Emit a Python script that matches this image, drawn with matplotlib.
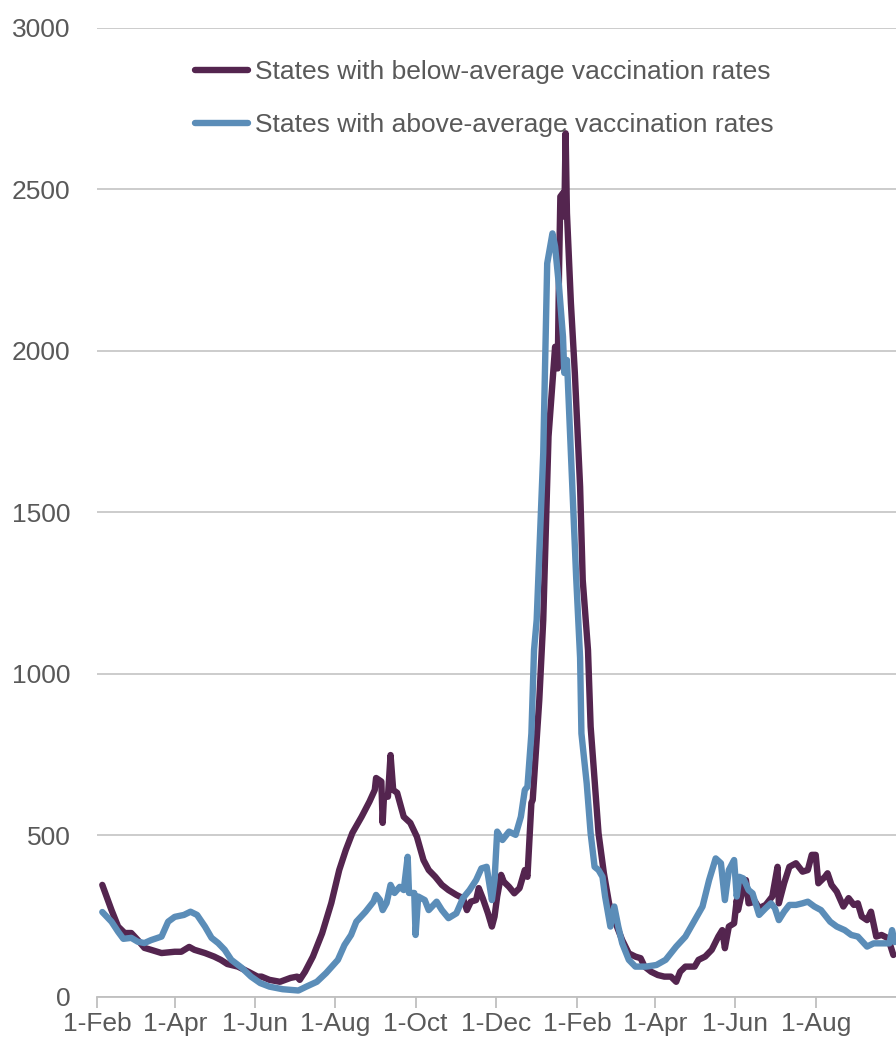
import pandas as pd
import matplotlib
matplotlib.use('Agg')
import matplotlib.pyplot as plt
import matplotlib.dates as mdates

plt.rcParams['font.family'] = ['Liberation Sans', 'DejaVu Sans']

# states with below-average vaccination rates
below_dates = [
    '2021-02-05', '2021-02-12', '2021-02-17', '2021-02-22', '2021-02-27', '2021-03-04',
    '2021-03-09', '2021-03-14', '2021-03-22', '2021-04-01', '2021-04-06', '2021-04-12',
    '2021-04-16', '2021-04-24', '2021-05-01', '2021-05-06', '2021-05-11', '2021-05-19',
    '2021-05-27', '2021-06-03', '2021-06-06', '2021-06-12', '2021-06-20', '2021-06-28',
    '2021-07-03', '2021-07-05', '2021-07-09', '2021-07-15', '2021-07-22', '2021-07-29',
    '2021-08-04', '2021-08-09', '2021-08-14', '2021-08-21', '2021-08-27', '2021-08-31',
    '2021-09-01', '2021-09-05', '2021-09-06', '2021-09-07', '2021-09-10', '2021-09-12',
    '2021-09-14', '2021-09-17', '2021-09-22', '2021-09-27', '2021-10-02', '2021-10-07',
    '2021-10-11', '2021-10-16', '2021-10-21', '2021-10-26', '2021-11-01', '2021-11-06',
    '2021-11-09', '2021-11-12', '2021-11-16', '2021-11-18', '2021-11-21', '2021-11-25',
    '2021-11-28', '2021-11-30', '2021-12-02', '2021-12-05', '2021-12-07', '2021-12-11',
    '2021-12-15', '2021-12-19', '2021-12-23', '2021-12-25', '2021-12-28', '2021-12-29',
    '2022-01-01', '2022-01-03', '2022-01-06', '2022-01-10', '2022-01-12', '2022-01-15',
    '2022-01-17', '2022-01-18', '2022-01-19', '2022-01-21', '2022-01-22', '2022-01-23',
    '2022-01-24', '2022-01-27', '2022-01-30', '2022-02-03', '2022-02-05', '2022-02-09',
    '2022-02-11', '2022-02-14', '2022-02-17', '2022-02-21', '2022-02-25', '2022-03-02',
    '2022-03-07', '2022-03-12', '2022-03-17', '2022-03-21', '2022-03-24', '2022-03-29',
    '2022-04-03', '2022-04-08', '2022-04-13', '2022-04-17', '2022-04-20', '2022-04-24',
    '2022-05-01', '2022-05-04', '2022-05-09', '2022-05-14', '2022-05-19', '2022-05-22',
    '2022-05-24', '2022-05-27', '2022-05-31', '2022-06-02', '2022-06-03', '2022-06-07',
    '2022-06-09', '2022-06-11', '2022-06-16', '2022-06-19', '2022-06-24', '2022-06-29',
    '2022-07-03', '2022-07-04', '2022-07-08', '2022-07-12', '2022-07-17', '2022-07-22',
    '2022-07-26', '2022-07-29', '2022-08-01', '2022-08-03', '2022-08-08', '2022-08-10',
    '2022-08-13', '2022-08-17', '2022-08-22', '2022-08-26', '2022-08-30', '2022-09-02',
    '2022-09-05', '2022-09-09', '2022-09-12', '2022-09-16', '2022-09-20', '2022-09-25',
    '2022-09-29',
]
below_vals = [
    347, 269, 218, 198, 198, 176,
    152, 146, 136, 140, 140, 155,
    146, 136, 125, 115, 102, 94,
    78, 63, 63, 53, 47, 59,
    63, 53, 78, 125, 197, 291,
    393, 455, 508, 558, 605, 641,
    678, 667, 539, 620, 620, 749,
    641, 632, 558, 539, 496, 424,
    393, 372, 347, 331, 316, 306,
    269, 295, 300, 337, 306, 259,
    218, 249, 311, 378, 357, 341,
    321, 337, 393, 372, 601, 610,
    796, 920, 1167, 1735, 1848, 2013,
    1946, 2250, 2478, 2489, 2416, 2674,
    2427, 2149, 1932, 1580, 1291, 1074,
    837, 672, 507, 385, 290, 228,
    176, 135, 125, 120, 94, 78,
    68, 63, 63, 47, 78, 94,
    94, 115, 125, 146, 187, 207,
    151, 218, 228, 300, 269, 341,
    362, 290, 295, 275, 285, 311,
    403, 290, 352, 403, 414, 388,
    393, 440, 440, 352, 372, 383,
    347, 326, 280, 306, 285, 290,
    249, 238, 264, 187, 192, 182,
    130,
]

# states with above-average vaccination rates
above_dates = [
    '2021-02-05', '2021-02-12', '2021-02-17', '2021-02-21', '2021-02-27', '2021-03-04',
    '2021-03-09', '2021-03-14', '2021-03-22', '2021-03-27', '2021-04-01', '2021-04-08',
    '2021-04-13', '2021-04-18', '2021-04-24', '2021-04-29', '2021-05-04', '2021-05-09',
    '2021-05-14', '2021-05-22', '2021-05-29', '2021-06-05', '2021-06-12', '2021-06-22',
    '2021-07-04', '2021-07-10', '2021-07-18', '2021-07-25', '2021-08-03', '2021-08-08',
    '2021-08-13', '2021-08-17', '2021-08-24', '2021-08-30', '2021-09-01', '2021-09-04',
    '2021-09-06', '2021-09-09', '2021-09-12', '2021-09-15', '2021-09-19', '2021-09-22',
    '2021-09-25', '2021-09-26', '2021-09-30', '2021-10-01', '2021-10-03', '2021-10-08',
    '2021-10-11', '2021-10-17', '2021-10-21', '2021-10-26', '2021-11-01', '2021-11-06',
    '2021-11-11', '2021-11-16', '2021-11-20', '2021-11-24', '2021-11-28', '2021-11-30',
    '2021-12-02', '2021-12-06', '2021-12-11', '2021-12-16', '2021-12-20', '2021-12-23',
    '2021-12-25', '2021-12-28', '2021-12-30', '2022-01-01', '2022-01-06', '2022-01-08',
    '2022-01-09', '2022-01-13', '2022-01-15', '2022-01-18', '2022-01-21', '2022-01-22',
    '2022-01-24', '2022-01-27', '2022-01-31', '2022-02-03', '2022-02-04', '2022-02-08',
    '2022-02-11', '2022-02-14', '2022-02-17', '2022-02-20', '2022-02-22', '2022-02-26',
    '2022-03-01', '2022-03-04', '2022-03-07', '2022-03-12', '2022-03-17', '2022-03-25',
    '2022-04-02', '2022-04-09', '2022-04-17', '2022-04-24', '2022-05-02', '2022-05-07',
    '2022-05-12', '2022-05-17', '2022-05-21', '2022-05-24', '2022-05-27', '2022-05-31',
    '2022-06-02', '2022-06-04', '2022-06-07', '2022-06-11', '2022-06-14', '2022-06-19',
    '2022-06-24', '2022-06-28', '2022-07-01', '2022-07-04', '2022-07-08', '2022-07-12',
    '2022-07-17', '2022-07-22', '2022-07-26', '2022-07-31', '2022-08-05', '2022-08-12',
    '2022-08-17', '2022-08-23', '2022-08-28', '2022-09-02', '2022-09-09', '2022-09-14',
    '2022-09-21', '2022-09-26', '2022-09-28', '2022-09-30',
]
above_vals = [
    263, 233, 202, 180, 183, 171,
    167, 176, 187, 233, 248, 254,
    264, 254, 218, 183, 167, 146,
    115, 90, 63, 43, 32, 24,
    20, 32, 47, 74, 115, 161,
    192, 233, 264, 295, 316, 300,
    269, 291, 347, 322, 341, 331,
    434, 322, 322, 192, 311, 300,
    269, 295, 269, 244, 259, 306,
    331, 362, 398, 403, 300, 362,
    512, 486, 512, 502, 558, 641,
    651, 816, 1074, 1167, 1684, 2075,
    2271, 2364, 2323, 2199, 2044, 1932,
    1972, 1684, 1300, 1050, 816, 662,
    507, 403, 393, 372, 311, 218,
    280, 218, 166, 115, 94, 94,
    99, 115, 156, 187, 244, 280,
    362, 429, 414, 300, 393, 424,
    311, 372, 367, 331, 321, 254,
    275, 290, 275, 238, 264, 285,
    285, 290, 295, 280, 269, 233,
    218, 207, 192, 187, 156, 166,
    166, 166, 207, 170,
]

below = pd.Series(below_vals, index=pd.to_datetime(below_dates))
above = pd.Series(above_vals, index=pd.to_datetime(above_dates))

fig = plt.figure(figsize=(8.96, 10.37), dpi=100)
ax = fig.add_axes([0.1083, 0.0386, 0.8917, 0.9344])

ax.plot(below.index, below.values, color='#54254F', lw=4.6,
        solid_joinstyle='round', solid_capstyle='round',
        label='States with below-average vaccination rates', zorder=3)
ax.plot(above.index, above.values, color='#5B8DB8', lw=4.6,
        solid_joinstyle='round', solid_capstyle='round',
        label='States with above-average vaccination rates', zorder=4)

ax.set_ylim(0, 3000)
ax.set_yticks(range(0, 3001, 500))
ax.set_xlim(pd.Timestamp('2021-02-01'), pd.Timestamp('2022-10-01'))
ax.xaxis.set_major_locator(mdates.MonthLocator(bymonth=[2, 4, 6, 8, 10, 12]))
ax.xaxis.set_major_formatter(mdates.DateFormatter('1-%b'))

ax.grid(axis='y', color='#BFBFBF', lw=1.1)
ax.set_axisbelow(True)
for s in ['left', 'right', 'top']:
    ax.spines[s].set_visible(False)
ax.spines['bottom'].set_color('#BFBFBF')
ax.spines['bottom'].set_linewidth(1.3)

ax.tick_params(axis='y', length=0, pad=19, labelsize=19, labelcolor='#595959')
ax.tick_params(axis='x', length=8, width=1.3, color='#BFBFBF', pad=3,
               labelsize=19, labelcolor='#595959')

# the last tick (1-Oct 2022) sits on the figure edge and has no label
ax.set_xticks(ax.get_xticks()[:-1])

leg = ax.legend(loc='upper left', bbox_to_anchor=(0.11, 0.978), frameon=False,
                fontsize=19, handlelength=2.0, handletextpad=0.25,
                labelspacing=1.1, borderaxespad=0)
for t in leg.get_texts():
    t.set_color('#595959')

fig.savefig('out.png', dpi=100)
